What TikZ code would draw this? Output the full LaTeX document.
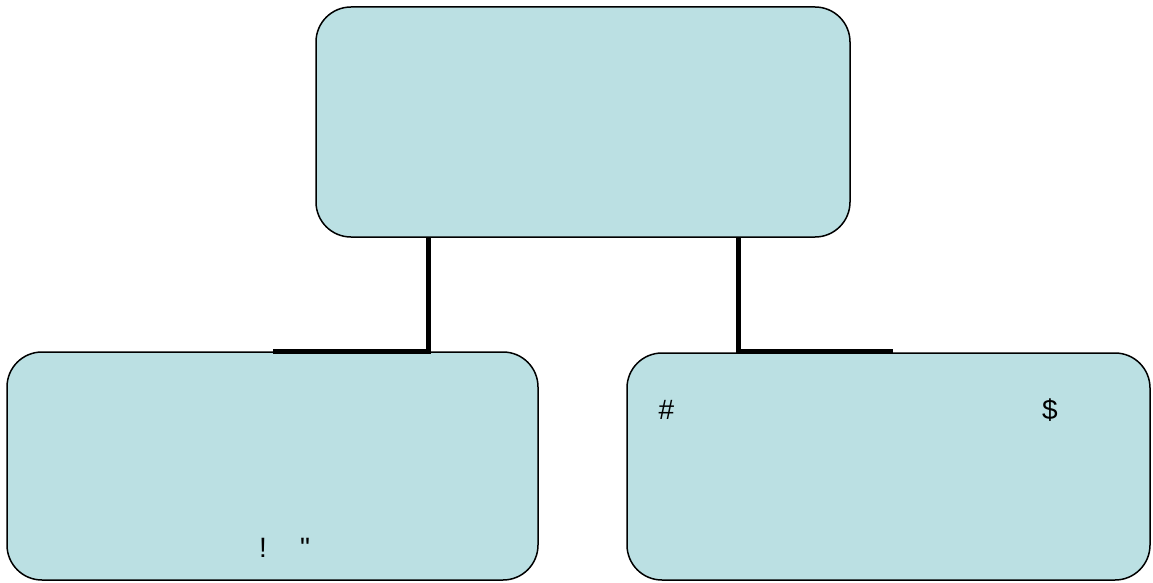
\documentclass[tikz,border=0pt]{standalone}
\usepackage{fontspec}
\setmainfont{Liberation Sans}
\newfontfamily\plainfont{Liberation Sans}[Ligatures=TeXOff]
\definecolor{boxfill}{HTML}{BBE0E3}
\begin{document}
\begin{tikzpicture}[x=1pt,y=-1pt,
  box/.style={draw=black,line width=1.5pt,fill=boxfill,rounded corners=35pt},
  conn/.style={draw=black,line width=5pt},
  lbl/.style={inner sep=0pt,anchor=base,font=\plainfont\fontsize{28}{32}\selectfont}]
\useasboundingbox (0,0) rectangle (1153,583);
\path[box] (316,7) rectangle (850,237);
\node[inner sep=0pt,minimum width=534pt,minimum height=230pt] (top) at (583,122) {};
\path[box] (7,352) rectangle (538,580);
\node[inner sep=0pt,minimum width=531pt,minimum height=228pt] (left) at (272.5,466) {};
\path[box] (627,353) rectangle (1150,580);
\node[inner sep=0pt,minimum width=523pt,minimum height=227pt] (right) at (888.5,466.5) {};
\coordinate (lj) at (428,351);
\coordinate (le) at (273,351);
\coordinate (rj) at (738,351);
\coordinate (re) at (893,351);
\draw[conn] (top.south -| lj) -- (lj) -- (le);
\draw[conn] (top.south -| rj) -- (rj) -- (re);
\node[lbl] (t1) at (263,557) {!};
\node[lbl] (t2) at (305,557) {"};
\node[lbl] (t3) at (666.5,419) {\#};
\node[lbl] (t4) at (1050,419) {\$};
\end{tikzpicture}
\end{document}
